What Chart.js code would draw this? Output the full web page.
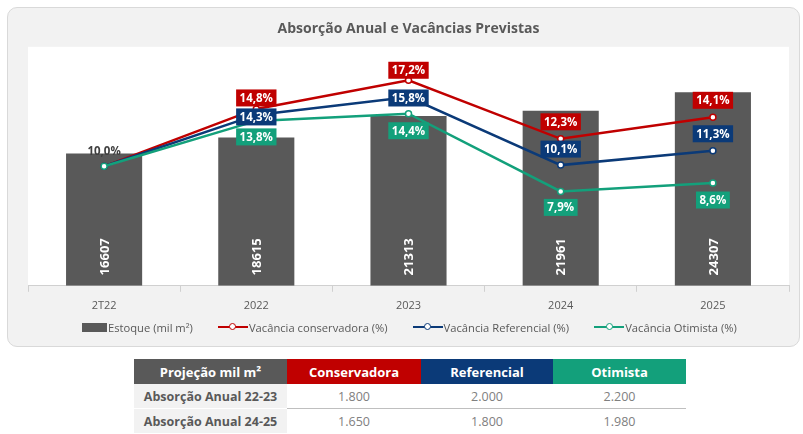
<!DOCTYPE html>
<html>
<head>
<meta charset="utf-8">
<script src="https://cdn.jsdelivr.net/npm/chart.js@4.4.1/dist/chart.umd.min.js"></script>
<style>
  body { margin: 0; background: #fff; font-family: "Open Sans", "Noto Sans", sans-serif; }
  #panel { position: absolute; left: 7px; top: 7px; width: 791px; height: 338px;
           background: #f2f2f2; border: 1px solid #d9d9d9; border-radius: 10px; }
  #wrap { position: absolute; left: 7px; top: 7px; width: 793px; height: 341px; }
  #legend { position: absolute; left: 82px; top: 319px; height: 16px; display: flex; align-items: center;
            gap: 25px; font-size: 11.2px; color: #595959; white-space: nowrap; }
  #legend .item { display: flex; align-items: center; gap: 1px; }
  #legend .bar { width: 25px; height: 9px; background: #595959; }
  #legend .ln { position: relative; width: 30px; height: 2.5px; }
  #legend .ln::after { content: ""; position: absolute; left: 11.5px; top: -2.75px; width: 5px; height: 5px;
                       border-radius: 50%; background: #fff; border: 1.5px solid; border-color: inherit; }
  table { position: absolute; left: 134px; top: 359px; border-collapse: collapse; table-layout: fixed; }
  th { height: 25px; padding: 0; color: #fff; font-size: 13px; font-weight: 700; }
  td { height: 24px; padding: 0; text-align: center; font-size: 12.5px; color: #808080; }
  td.rowhead { background: #f2f2f2; color: #595959; font-weight: 700; font-size: 12.5px; }
  tr.r1 td { border-bottom: 1px solid #bfbfbf; }
  tr.r1 td.rowhead { border-bottom: 1px solid #fff; }
</style>
</head>
<body>
<div id="panel"></div>
<div id="wrap"><canvas id="myChart"></canvas></div>
<div id="legend"></div>

<table>
  <colgroup><col style="width:153px"><col style="width:134px"><col style="width:132px"><col style="width:133px"></colgroup>
  <tr>
    <th style="background:#595959">Projeção mil m²</th>
    <th style="background:#c00000">Conservadora</th>
    <th style="background:#0b3a78">Referencial</th>
    <th style="background:#13a07b">Otimista</th>
  </tr>
  <tr class="r1"><td class="rowhead">Absorção Anual 22-23</td><td>1.800</td><td>2.000</td><td>2.200</td></tr>
  <tr><td class="rowhead">Absorção Anual 24-25</td><td>1.650</td><td>1.800</td><td>1.980</td></tr>
</table>

<script>
const categories = ['2T22', '2022', '2023', '2024', '2025'];
const estoque = [16607, 18615, 21313, 21961, 24307];
const vacConservadora = [10.0, 14.8, 17.2, 12.3, 14.1];
const vacReferencial = [10.0, 14.3, 15.8, 10.1, 11.3];
const vacOtimista = [10.0, 13.8, 14.4, 7.9, 8.6];

const RED = '#c00000', BLUE = '#0b3a78', GREEN = '#13a07b', GREY = '#595959';
const FONT = '"Open Sans", "Noto Sans", sans-serif';

// vertical shift (px) of each percentage label from its point
const labelShift = {
  1: [-15, -11, -10, -17, -17],
  2: [0, 2, 1, -16, -17],
  3: [0, 16, 17, 16, 17]
};

function pct(v) { return v.toFixed(1).replace('.', ',') + '%'; }

const plotBg = {
  id: 'plotBg',
  beforeDraw(chart) {
    const a = chart.chartArea, ctx = chart.ctx;
    ctx.save();
    ctx.fillStyle = '#fff';
    ctx.fillRect(a.left, a.top, a.right - a.left, a.bottom - a.top);
    ctx.restore();
  }
};

const valueLabels = {
  id: 'valueLabels',
  afterDatasetsDraw(chart) {
    const ctx = chart.ctx;
    ctx.save();
    ctx.textAlign = 'center';
    ctx.textBaseline = 'middle';
    chart.data.datasets.forEach(function(ds, di) {
      const meta = chart.getDatasetMeta(di);
      if (ds.type !== 'line') {
        // stock values written vertically inside the bars
        ctx.font = 'bold 13px ' + FONT;
        ctx.fillStyle = '#fff';
        meta.data.forEach(function(bar, i) {
          ctx.save();
          ctx.translate(bar.x, bar.base - 29);
          ctx.rotate(-Math.PI / 2);
          ctx.fillText(String(ds.data[i]), 0, 1);
          ctx.restore();
        });
        return;
      }
      ctx.font = 'bold 11.5px ' + FONT;
      meta.data.forEach(function(pt, i) {
        const txt = pct(ds.data[i]);
        const y = pt.y + labelShift[di][i];
        if (i === 0) {
          // the three scenarios start together: one plain label
          if (di === 1) {
            ctx.fillStyle = '#404040';
            ctx.fillText(txt, pt.x, y);
          }
          return;
        }
        const w = ctx.measureText(txt).width + 7;
        ctx.fillStyle = ds.borderColor;
        ctx.fillRect(pt.x - w / 2, y - 8.5, w, 17);
        ctx.fillStyle = '#fff';
        ctx.fillText(txt, pt.x, y + 0.5);
      });
    });
    ctx.restore();
  }
};

// order: higher is painted first, so green ends up on top
function lineSet(label, data, color, order) {
  return {
    type: 'line',
    label: label,
    data: data,
    yAxisID: 'y2',
    borderColor: color,
    borderWidth: 2.5,
    pointRadius: 3,
    pointBorderWidth: 1.5,
    pointBackgroundColor: '#fff',
    pointBorderColor: color,
    tension: 0,
    order: order
  };
}

const ctx = document.getElementById('myChart').getContext('2d');
const myChart = new Chart(ctx, {
  type: 'bar',
  data: {
    labels: categories,
    datasets: [
      {
        label: 'Estoque (mil m²)',
        data: estoque,
        backgroundColor: GREY,
        yAxisID: 'y',
        barPercentage: 0.5,
        categoryPercentage: 1,
        order: 2
      },
      lineSet('Vacância conservadora (%)', vacConservadora, RED, 1.3),
      lineSet('Vacância Referencial (%)', vacReferencial, BLUE, 1.2),
      lineSet('Vacância Otimista (%)', vacOtimista, GREEN, 1.1)
    ]
  },
  options: {
    responsive: true,
    maintainAspectRatio: false,
    animation: false,
    layout: { padding: { left: 21, right: 11, top: 0, bottom: 29 } },
    plugins: {
      title: {
        display: true,
        text: 'Absorção Anual e Vacâncias Previstas',
        color: GREY,
        font: { family: FONT, size: 14, weight: 'bold' },
        padding: { top: 14, bottom: 9 }
      },
      legend: { display: false },
      tooltip: { enabled: false }
    },
    scales: {
      x: {
        grid: { display: true, drawOnChartArea: false, drawTicks: true, tickLength: 6, color: '#d0d0d0', offset: true },
        border: { display: true, color: '#d0d0d0' },
        ticks: { color: GREY, padding: 7, font: { family: FONT, size: 11 } }
      },
      y: { display: false, min: 0, max: 30000 },
      y2: { display: false, min: 0, max: 20 }
    }
  },
  plugins: [plotBg, valueLabels]
});

// legend built from the dataset list
const legendBox = document.getElementById('legend');
myChart.data.datasets.forEach(function(ds) {
  const item = document.createElement('div');
  item.className = 'item';
  const sym = document.createElement('span');
  if (ds.type === 'line') {
    sym.className = 'ln';
    sym.style.background = ds.borderColor;
    sym.style.borderColor = ds.borderColor;
  } else {
    sym.className = 'bar';
  }
  const txt = document.createElement('span');
  txt.textContent = ds.label;
  item.appendChild(sym);
  item.appendChild(txt);
  legendBox.appendChild(item);
});
</script>
</body>
</html>
